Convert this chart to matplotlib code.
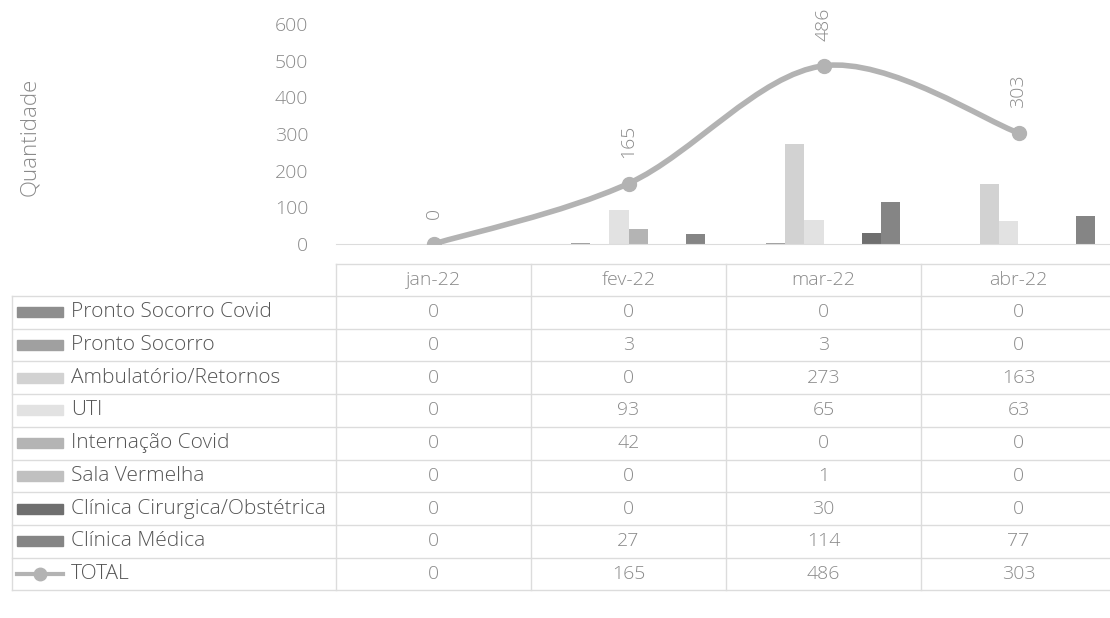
import numpy as np
import matplotlib
matplotlib.use("Agg")
from matplotlib import pyplot as plt
from matplotlib.path import Path
from matplotlib.patches import PathPatch, Rectangle
from matplotlib.lines import Line2D
from matplotlib import transforms

plt.rcParams['font.family'] = ['Open Sans', 'DejaVu Sans']
plt.rcParams['font.weight'] = 'light'

months = ["jan-22", "fev-22", "mar-22", "abr-22"]
series = ["Pronto Socorro Covid", "Pronto Socorro", "Ambulatório/Retornos", "UTI",
          "Internação Covid", "Sala Vermelha", "Clínica Cirurgica/Obstétrica", "Clínica Médica"]
pronto_socorro_covid = [0, 0, 0, 0]
pronto_socorro = [0, 3, 3, 0]
ambulatorio = [0, 0, 273, 163]
uti = [0, 93, 65, 63]
internacao_covid = [0, 42, 0, 0]
sala_vermelha = [0, 0, 1, 0]
clinica_cirurgica = [0, 0, 30, 0]
clinica_medica = [0, 27, 114, 77]
total = [0, 165, 486, 303]

values = [pronto_socorro_covid, pronto_socorro, ambulatorio, uti,
          internacao_covid, sala_vermelha, clinica_cirurgica, clinica_medica]
colors = ["#8e8e8e", "#a0a0a0", "#d2d2d2", "#e2e2e2",
          "#b4b4b4", "#c0c0c0", "#6f6f6f", "#858585"]
line_color = "#b3b3b3"
text_dark = "#555555"
text_light = "#8a8a8a"
grid_color = "#dcdcdc"

W, H = 1110, 618
fig = plt.figure(figsize=(W / 100, H / 100), dpi=100)

# plot area (pixel positions from the scan)
left, right, top, bottom = 336, 1116, 24, 244
ax = fig.add_axes([left / W, 1 - bottom / H, (right - left) / W, (bottom - top) / H])
x = np.arange(len(months))
ax.set_xlim(-0.5, len(months) - 0.5)
ax.set_ylim(0, 600)

n = len(series)
bw = 1 / (n + 2.19)
for i, (vals, c) in enumerate(zip(values, colors)):
    ax.bar(x + (i - (n - 1) / 2) * bw, vals, width=bw, color=c, zorder=2)

# smoothed total line (Bezier through the points)
pts = np.column_stack([x, total]).astype(float)
verts = [pts[0]]
codes = [Path.MOVETO]
for i in range(len(pts) - 1):
    p0 = pts[max(i - 1, 0)]
    p1, p2 = pts[i], pts[i + 1]
    p3 = pts[min(i + 2, len(pts) - 1)]
    verts += [p1 + (p2 - p0) / 6, p2 - (p3 - p1) / 6, p2]
    codes += [Path.CURVE4] * 3
ax.add_patch(PathPatch(Path(verts, codes), fill=False, edgecolor=line_color, lw=4, zorder=3,
                       capstyle='round'))
ax.plot(x, total, 'o', color=line_color, ms=10, zorder=4)
for xi, v in zip(x, total):
    ax.annotate(str(v), (xi, v), xytext=(0, 18), textcoords='offset points', rotation=90,
                ha='center', va='bottom', fontsize=14, color=text_light)

ax.set_yticks(range(0, 601, 100))
ax.tick_params(axis='y', length=0, pad=20, labelsize=14, labelcolor=text_light)
ax.set_xticks([])
for s in ['top', 'right', 'left']:
    ax.spines[s].set_visible(False)
ax.spines['bottom'].set_color(grid_color)
ax.set_facecolor('none')

fig.text(30 / W, 1 - 137 / H, "Quantidade", rotation=90, ha='center', va='center',
         fontsize=16, color=text_light)

# data table below the plot
trx = transforms.blended_transform_factory(ax.transData, fig.transFigure)
fy = lambda py: 1 - py / H
fx = lambda px: px / W
head_top, tab_top, row_h = 264, 296, 32.7
rows = series + ["TOTAL"]
table_vals = values + [total]
tab_bottom = tab_top + row_h * len(rows)

fig.add_artist(Line2D([fx(left), 1], [fy(head_top)] * 2, color=grid_color, lw=1))
for r in range(len(rows) + 1):
    y = fy(tab_top + r * row_h)
    fig.add_artist(Line2D([fx(12), 1], [y, y], color=grid_color, lw=1))
fig.add_artist(Line2D([fx(12)] * 2, [fy(tab_top), fy(tab_bottom)], color=grid_color, lw=1))
for b in np.arange(len(months) + 1) - 0.5:
    ax.add_artist(Line2D([b, b], [fy(head_top), fy(tab_bottom)], color=grid_color, lw=1,
                         transform=trx, clip_on=False))

for j, m in enumerate(months):
    ax.text(j, fy((head_top + tab_top) / 2), m, transform=trx, ha='center', va='center',
            fontsize=14, color=text_light, clip_on=False)

for r, (name, vals) in enumerate(zip(rows, table_vals)):
    yc = fy(tab_top + (r + 0.5) * row_h)
    if name == "TOTAL":
        fig.add_artist(Line2D([fx(17), fx(63)], [yc, yc], color=line_color, lw=3))
        fig.add_artist(Line2D([fx(40)], [yc], marker='o', ms=9, color=line_color))
    else:
        fig.add_artist(Rectangle((fx(17), yc - 5 / H), 46 / W, 10 / H, color=colors[r]))
    fig.text(fx(71), yc, name, ha='left', va='center', fontsize=15, color=text_dark)
    for j, v in enumerate(vals):
        ax.text(j, yc, str(v), transform=trx, ha='center', va='center',
                fontsize=14, color=text_light, clip_on=False)

fig.savefig("out.png", dpi=100)
